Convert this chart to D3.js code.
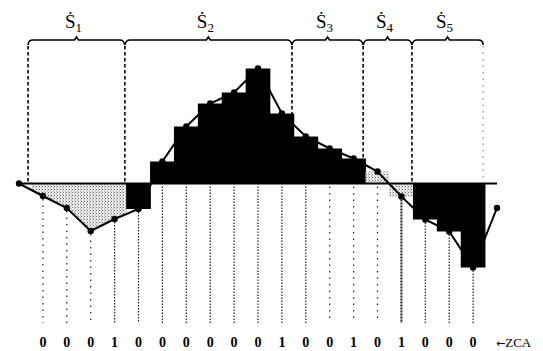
<!DOCTYPE html>
<html>
<head>
<meta charset="utf-8">
<script src="https://cdn.jsdelivr.net/npm/d3@7"></script>
<style>
  html, body { margin: 0; padding: 0; background: #fff; }
  svg { display: block; }
</style>
</head>
<body>
<svg id="chart" width="543" height="351"></svg>
<script>
// ---- data ----
// sample indices (-1 .. 19) and the sampled rate values
const sampleIndex = d3.range(-1, 20);
const rateValues = [0, -1.25, -2.45, -4.75, -3.55, -2.55, 2.2, 5.7, 8.0, 9.1, 11.5,
                    7.0, 4.7, 3.5, 2.5, 1.2, -1.3, -3.6, -4.8, -8.4, -2.45];
// zero-crossing annotation for bar indices 0 .. 18
const zcaLabels = ["0","0","0","1","0","0","0","0","0","0","1","0","0","1","0","1","0","0","0"];
// segment boundaries (in sample-index units) and segment names
const segmentBounds = [-0.62, 3.43, 10.42, 13.4, 15.44, 18.42];
const segmentNames = ["1", "2", "3", "4", "5"];

// ---- drawing ----
const svg = d3.select("#chart");
const x = d3.scaleLinear().domain([-1, 19]).range([19, 497]);
const y = d3.scaleLinear().domain([-10, 14]).range([283.5, 43.5]);
const bw = x(1) - x(0);

const pts = sampleIndex.map((i, k) => ({ i, v: rateValues[k] }));
const bars = pts.filter(d => d.i >= 0 && d.i <= 18);

// stipple pattern
const defs = svg.append("defs");
const pat = defs.append("pattern").attr("id", "stip").attr("width", 3).attr("height", 3)
  .attr("patternUnits", "userSpaceOnUse");
pat.append("rect").attr("width", 3).attr("height", 3).attr("fill", "#ececec");
pat.append("rect").attr("x", 0).attr("y", 0).attr("width", 1).attr("height", 1).attr("fill", "#666");
pat.append("rect").attr("x", 2).attr("y", 1.5).attr("width", 1).attr("height", 1).attr("fill", "#999");

defs.append("clipPath").attr("id", "clipArea").append("rect")
  .attr("x", x(-0.5)).attr("y", 0).attr("width", x(3.5) - x(-0.5)).attr("height", 351);

// stippled area for first negative lobe
const lobe = pts.filter(d => d.i <= 4);
svg.append("path")
  .datum(lobe)
  .attr("clip-path", "url(#clipArea)")
  .attr("fill", "url(#stip)")
  .attr("d", d3.area().x(d => x(d.i)).y0(y(0)).y1(d => y(d.v)));

// bars
const stippleBars = new Set([14, 15]);
svg.append("g").selectAll("rect")
  .data(bars.filter(d => d.i >= 4))
  .join("rect")
  .attr("x", d => x(d.i) - bw / 2 - (stippleBars.has(d.i) ? 0 : 0.4))
  .attr("width", d => bw + (stippleBars.has(d.i) ? 0 : 0.8))
  .attr("y", d => y(Math.max(0, d.v)))
  .attr("height", d => Math.abs(y(d.v) - y(0)))
  .attr("fill", d => stippleBars.has(d.i) ? "url(#stip)" : "#000");

// dotted lines under each bar
svg.append("g").selectAll("line")
  .data(bars)
  .join("line")
  .attr("x1", d => x(d.i)).attr("x2", d => x(d.i))
  .attr("y1", d => y(Math.min(0, d.v)) + 3)
  .attr("y2", 323)
  .attr("stroke", "#222")
  .attr("stroke-width", d => d.i === 15 ? 2 : 1.2)
  .attr("stroke-dasharray", d => d.i === 15 ? "2,1" : (d.i < 3 || (d.i >= 12 && d.i <= 14)) ? "1.5,5" : "1.5,1.5");

// baseline
svg.append("line")
  .attr("x1", x(-1)).attr("x2", x(19))
  .attr("y1", y(0)).attr("y2", y(0))
  .attr("stroke", "#000").attr("stroke-width", 2);

// polyline and markers
svg.append("path")
  .datum(pts)
  .attr("fill", "none").attr("stroke", "#000").attr("stroke-width", 2)
  .attr("d", d3.line().x(d => x(d.i)).y(d => y(d.v)));
svg.append("g").selectAll("circle")
  .data(pts)
  .join("circle")
  .attr("cx", d => x(d.i)).attr("cy", d => y(d.v)).attr("r", 3.2)
  .attr("fill", "#000");

// segment brace
const by = 40;
const p = d3.path();
const xs = segmentBounds.map(b => x(b));
p.moveTo(xs[0], by + 5);
p.quadraticCurveTo(xs[0], by, xs[0] + 5, by);
for (let k = 0; k < segmentNames.length; k++) {
  const a = xs[k], b = xs[k + 1], c = (a + b) / 2;
  p.lineTo(c - 2, by);
  p.lineTo(c, by - 3);
  p.lineTo(c + 2, by);
  if (k < segmentNames.length - 1) {
    p.lineTo(b - 5, by);
    p.quadraticCurveTo(b - 1, by, b, by + 5);
    p.quadraticCurveTo(b + 1, by, b + 5, by);
  } else {
    p.lineTo(b - 5, by);
    p.quadraticCurveTo(b, by, b, by + 5);
  }
}
svg.append("path").attr("d", p.toString())
  .attr("fill", "none").attr("stroke", "#000").attr("stroke-width", 1.6);

// dashed separators
svg.append("g").selectAll("line")
  .data(segmentBounds)
  .join("line")
  .attr("x1", d => x(d)).attr("x2", d => x(d))
  .attr("y1", by + 6).attr("y2", y(0) - 2)
  .attr("stroke", (d, k) => k === segmentBounds.length - 1 ? "#777" : "#000")
  .attr("stroke-width", (d, k) => k === segmentBounds.length - 1 ? 1 : 1.6)
  .attr("stroke-dasharray", (d, k) => k === segmentBounds.length - 1 ? "1.5,5" : "3.5,2.5");

// segment labels
const lbl = svg.append("g").selectAll("text")
  .data(segmentNames)
  .join("text")
  .attr("x", (d, k) => (x(segmentBounds[k]) + x(segmentBounds[k + 1])) / 2 - 3)
  .attr("y", 28)
  .attr("text-anchor", "middle")
  .attr("font-family", "'Liberation Serif', 'DejaVu Serif', serif")
  .attr("font-size", 19)
  .attr("fill", "#000");
lbl.append("tspan").text("\u1E60");
lbl.append("tspan").attr("font-size", 13).attr("dy", 4).text(d => d);

// ZCA row
svg.append("g").selectAll("text")
  .data(zcaLabels)
  .join("text")
  .attr("x", (d, k) => x(k))
  .attr("y", 347)
  .attr("text-anchor", "middle")
  .attr("font-family", "'Liberation Serif', serif")
  .attr("font-size", 14)
  .attr("font-weight", "bold")
  .attr("fill", "#000")
  .text(d => d);
const zt = svg.append("text")
  .attr("x", 496).attr("y", 347)
  .attr("font-family", "'Liberation Serif', serif")
  .attr("font-size", 13)
  .attr("fill", "#000");
zt.append("tspan").attr("font-family", "'DejaVu Sans', sans-serif").attr("font-size", 11).text("\u2190");
zt.append("tspan").text("ZCA");
</script>
</body>
</html>
